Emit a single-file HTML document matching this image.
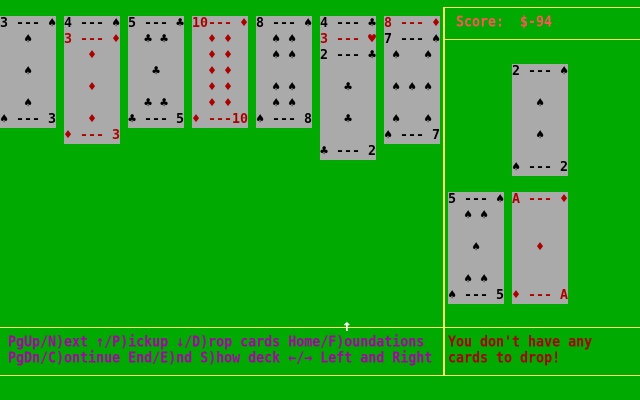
<!DOCTYPE html>
<html><head><meta charset="utf-8"><style>
body{margin:0;width:640px;height:400px;background:#00aa00;overflow:hidden;position:relative;font-family:"DejaVu Sans Mono","Liberation Mono",monospace;}
pre{margin:0;position:absolute;font-family:"DejaVu Sans Mono","Liberation Mono",monospace;font-size:13.3px;line-height:16px;letter-spacing:0;}
.c{background:#aaaaaa;color:#000;width:56px;overflow:hidden;font-weight:bold;}
.r{color:#aa0000;}
.y{position:absolute;background:#ffff55;}
.b{font-weight:bold;transform:scaleY(1.15);transform-origin:0 0;}
</style></head><body>
<div class="y" style="left:443px;top:7px;width:197px;height:1px"></div>
<div class="y" style="left:443px;top:39px;width:197px;height:1px"></div>
<div class="y" style="left:0;top:327px;width:640px;height:1px"></div>
<div class="y" style="left:0;top:375px;width:640px;height:1px"></div>
<div class="y" style="left:443px;top:7px;width:2px;height:369px"></div>

<pre class="c" style="left:0;top:16px">3 --- ♠
   ♠

   ♠

   ♠
♠ --- 3</pre>
<pre class="c" style="left:64px;top:16px">4 --- ♠
<span class="r">3 --- ♦
   ♦

   ♦

   ♦
♦ --- 3</span></pre>
<pre class="c" style="left:128px;top:16px">5 --- ♣
  ♣ ♣

   ♣

  ♣ ♣
♣ --- 5</pre>
<pre class="c r" style="left:192px;top:16px">10--- ♦
  ♦ ♦
  ♦ ♦
  ♦ ♦
  ♦ ♦
  ♦ ♦
♦ ---10</pre>
<pre class="c" style="left:256px;top:16px">8 --- ♠
  ♠ ♠
  ♠ ♠

  ♠ ♠
  ♠ ♠
♠ --- 8</pre>
<pre class="c" style="left:320px;top:16px">4 --- ♣
<span class="r">3 --- ♥</span>
2 --- ♣

   ♣

   ♣

♣ --- 2</pre>
<pre class="c" style="left:384px;top:16px"><span class="r">8 --- ♦</span>
7 --- ♠
 ♠   ♠

 ♠ ♠ ♠

 ♠   ♠
♠ --- 7</pre>
<pre class="c" style="left:512px;top:64px">2 --- ♠

   ♠

   ♠

♠ --- 2</pre>
<pre class="c" style="left:448px;top:192px">5 --- ♠
  ♠ ♠

   ♠

  ♠ ♠
♠ --- 5</pre>
<pre class="c r" style="left:512px;top:192px">A --- ♦


   ♦


♦ --- A</pre>

<pre class="b" style="left:456px;top:14px;color:#ff5555">Score:  $-94</pre>
<pre style="left:342px;top:318px;color:#fff;font-size:16px;font-weight:bold">↑</pre>
<pre class="b" style="left:8px;top:335px;color:#aa00aa;line-height:14px">PgUp/N)ext ↑/P)ickup ↓/D)rop cards Home/F)oundations
PgDn/C)ontinue End/E)nd S)how deck ←/→ Left and Right</pre>
<pre class="b" style="left:448px;top:335px;color:#aa0000;line-height:14px">You don't have any
cards to drop!</pre>
</body></html>
